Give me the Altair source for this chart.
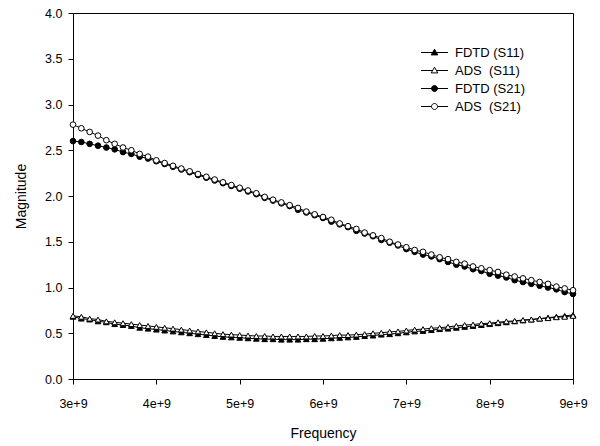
import altair as alt
import pandas as pd

FREQ_GHZ = [3.0, 3.1, 3.2, 3.3, 3.4, 3.5, 3.6, 3.7, 3.8, 3.9,
            4.0, 4.1, 4.2, 4.3, 4.4, 4.5, 4.6, 4.7, 4.8, 4.9,
            5.0, 5.1, 5.2, 5.3, 5.4, 5.5, 5.6, 5.7, 5.8, 5.9,
            6.0, 6.1, 6.2, 6.3, 6.4, 6.5, 6.6, 6.7, 6.8, 6.9,
            7.0, 7.1, 7.2, 7.3, 7.4, 7.5, 7.6, 7.7, 7.8, 7.9,
            8.0, 8.1, 8.2, 8.3, 8.4, 8.5, 8.6, 8.7, 8.8, 8.9, 9.0]

FDTD_S11 = [0.68, 0.66, 0.65, 0.63, 0.62, 0.60, 0.59, 0.58, 0.56, 0.55,
            0.54, 0.53, 0.52, 0.51, 0.50, 0.49, 0.48, 0.47, 0.46, 0.455,
            0.45, 0.445, 0.44, 0.435, 0.435, 0.43, 0.43, 0.43, 0.435, 0.435,
            0.44, 0.445, 0.45, 0.455, 0.46, 0.47, 0.475, 0.485, 0.49, 0.50,
            0.51, 0.52, 0.525, 0.535, 0.545, 0.55, 0.56, 0.57, 0.58, 0.59,
            0.60, 0.61, 0.62, 0.63, 0.64, 0.65, 0.66, 0.67, 0.68, 0.69, 0.70]

ADS_S11 = [0.69, 0.68, 0.66, 0.65, 0.63, 0.62, 0.61, 0.60, 0.59, 0.58,
           0.57, 0.56, 0.55, 0.54, 0.53, 0.52, 0.51, 0.50, 0.49, 0.485,
           0.48, 0.475, 0.47, 0.47, 0.465, 0.465, 0.465, 0.465, 0.465, 0.47,
           0.47, 0.475, 0.48, 0.48, 0.485, 0.49, 0.50, 0.505, 0.515, 0.52,
           0.53, 0.54, 0.545, 0.555, 0.56, 0.57, 0.58, 0.59, 0.595, 0.605,
           0.61, 0.62, 0.63, 0.635, 0.645, 0.65, 0.66, 0.665, 0.675, 0.68, 0.69]

FDTD_S21 = [2.60, 2.59, 2.57, 2.55, 2.53, 2.51, 2.48, 2.46, 2.43, 2.41,
            2.38, 2.35, 2.32, 2.29, 2.26, 2.23, 2.20, 2.17, 2.14, 2.11,
            2.08, 2.05, 2.02, 1.98, 1.95, 1.92, 1.89, 1.85, 1.82, 1.79,
            1.76, 1.72, 1.69, 1.66, 1.62, 1.59, 1.56, 1.52, 1.49, 1.46,
            1.42, 1.39, 1.36, 1.34, 1.31, 1.28, 1.25, 1.23, 1.20, 1.18,
            1.15, 1.13, 1.11, 1.08, 1.06, 1.04, 1.02, 1.00, 0.98, 0.95, 0.93]

ADS_S21 = [2.78, 2.74, 2.70, 2.66, 2.61, 2.57, 2.53, 2.50, 2.46, 2.43,
           2.39, 2.36, 2.33, 2.30, 2.27, 2.24, 2.21, 2.18, 2.15, 2.12,
           2.09, 2.06, 2.03, 1.99, 1.96, 1.93, 1.90, 1.87, 1.83, 1.80,
           1.77, 1.74, 1.70, 1.67, 1.64, 1.60, 1.57, 1.54, 1.50, 1.47,
           1.44, 1.41, 1.39, 1.36, 1.33, 1.31, 1.28, 1.26, 1.23, 1.21,
           1.19, 1.17, 1.14, 1.12, 1.10, 1.08, 1.06, 1.04, 1.01, 0.99, 0.97]

SERIES = ["FDTD (S11)", "ADS\u00a0\u00a0(S11)", "FDTD (S21)", "ADS\u00a0\u00a0(S21)"]
SHAPES = ["triangle-up", "triangle-up", "circle", "circle"]
FILLS = ["black", "white", "black", "white"]
STROKES = ["black", "black", "black", "black"]
SIZES = [32, 32, 36, 40]
# legend glyphs: short line with the marker in its middle
LEGEND_SHAPES = [
    "M-4.5,0L4.5,0M0,-1.1L1.1,0.8L-1.1,0.8Z",
    "M-4.5,0L-0.64,0M0.64,0L4.5,0M0,-1.1L1.1,0.8L-1.1,0.8Z",
    "M-4.5,0L4.5,0M-1,0A1,1,0,1,1,1,0A1,1,0,1,1,-1,0Z",
    "M-4.5,0L-1,0M1,0L4.5,0M-1,0A1,1,0,1,1,1,0A1,1,0,1,1,-1,0Z",
]

X_TICKS = [3e9, 4e9, 5e9, 6e9, 7e9, 8e9, 9e9]
Y_TICKS = [0.0, 0.5, 1.0, 1.5, 2.0, 2.5, 3.0, 3.5, 4.0]

rows = []
for name, vals in zip(SERIES, [FDTD_S11, ADS_S11, FDTD_S21, ADS_S21]):
    for f, v in zip(FREQ_GHZ, vals):
        rows.append({"freq": f * 1e9, "mag": v, "series": name})
df = pd.DataFrame(rows)

FONT = "Liberation Sans"

x_enc = alt.X("freq:Q",
              scale=alt.Scale(domain=[3e9, 9e9], nice=False, zero=False),
              axis=alt.Axis(title="Frequency", values=X_TICKS, format=".0e",
                            labelFontSize=12.5, titleFontSize=14, titleFontWeight="normal",
                            tickSize=5, labelPadding=13, titlePadding=17,
                            grid=False, domainColor="black", tickColor="black",
                            labelColor="black", titleColor="black",
                            labelFont=FONT, titleFont=FONT, labelFlush=False))
y_enc = alt.Y("mag:Q",
              scale=alt.Scale(domain=[0, 4], nice=False),
              axis=alt.Axis(title="Magnitude", values=Y_TICKS, format=".1f",
                            labelFontSize=12.5, titleFontSize=14, titleFontWeight="normal",
                            tickSize=5, labelPadding=6, titlePadding=16,
                            grid=False, domainColor="black", tickColor="black",
                            labelColor="black", titleColor="black",
                            labelFont=FONT, titleFont=FONT, labelFlush=False))

lines = alt.Chart(df).mark_line(color="black", strokeWidth=1).encode(
    x=x_enc, y=y_enc, detail="series:N"
)

points = alt.Chart(df).mark_point(filled=True, stroke="black", strokeWidth=1, opacity=1).encode(
    x=x_enc, y=y_enc,
    shape=alt.Shape("series:N", scale=alt.Scale(domain=SERIES, range=SHAPES), legend=None),
    fill=alt.Fill("series:N", scale=alt.Scale(domain=SERIES, range=FILLS), legend=None),
    size=alt.Size("series:N", scale=alt.Scale(domain=SERIES, range=SIZES), legend=None),
)

legend = alt.Legend(
    title=None, orient="none", legendX=344, legendY=33,
    labelFontSize=13, labelFont=FONT, labelColor="black",
    symbolOffset=11, labelOffset=14, rowPadding=4, padding=0,
    symbolSize=36, symbolStrokeWidth=1, symbolOpacity=1,
)

legend_layer = alt.Chart(df).transform_filter("false").mark_point(
    filled=False, strokeWidth=1, opacity=1, size=36
).encode(
    x=x_enc, y=y_enc,
    shape=alt.Shape("series:N", scale=alt.Scale(domain=SERIES, range=LEGEND_SHAPES), legend=legend),
    fill=alt.Fill("series:N", scale=alt.Scale(domain=SERIES, range=FILLS), legend=legend),
    stroke=alt.Stroke("series:N", scale=alt.Scale(domain=SERIES, range=STROKES), legend=legend),
)

chart = alt.layer(lines, points, legend_layer).resolve_scale(
    shape="independent", fill="independent", stroke="independent"
).properties(
    width=500, height=366,
    autosize=alt.AutoSizeParams(type="none"),
    padding={"left": 65, "top": 5, "right": 19, "bottom": 66},
    background="white",
).configure_view(stroke="black", strokeWidth=1)

chart.save("out.html", embed_options={"renderer": "svg", "actions": False})
